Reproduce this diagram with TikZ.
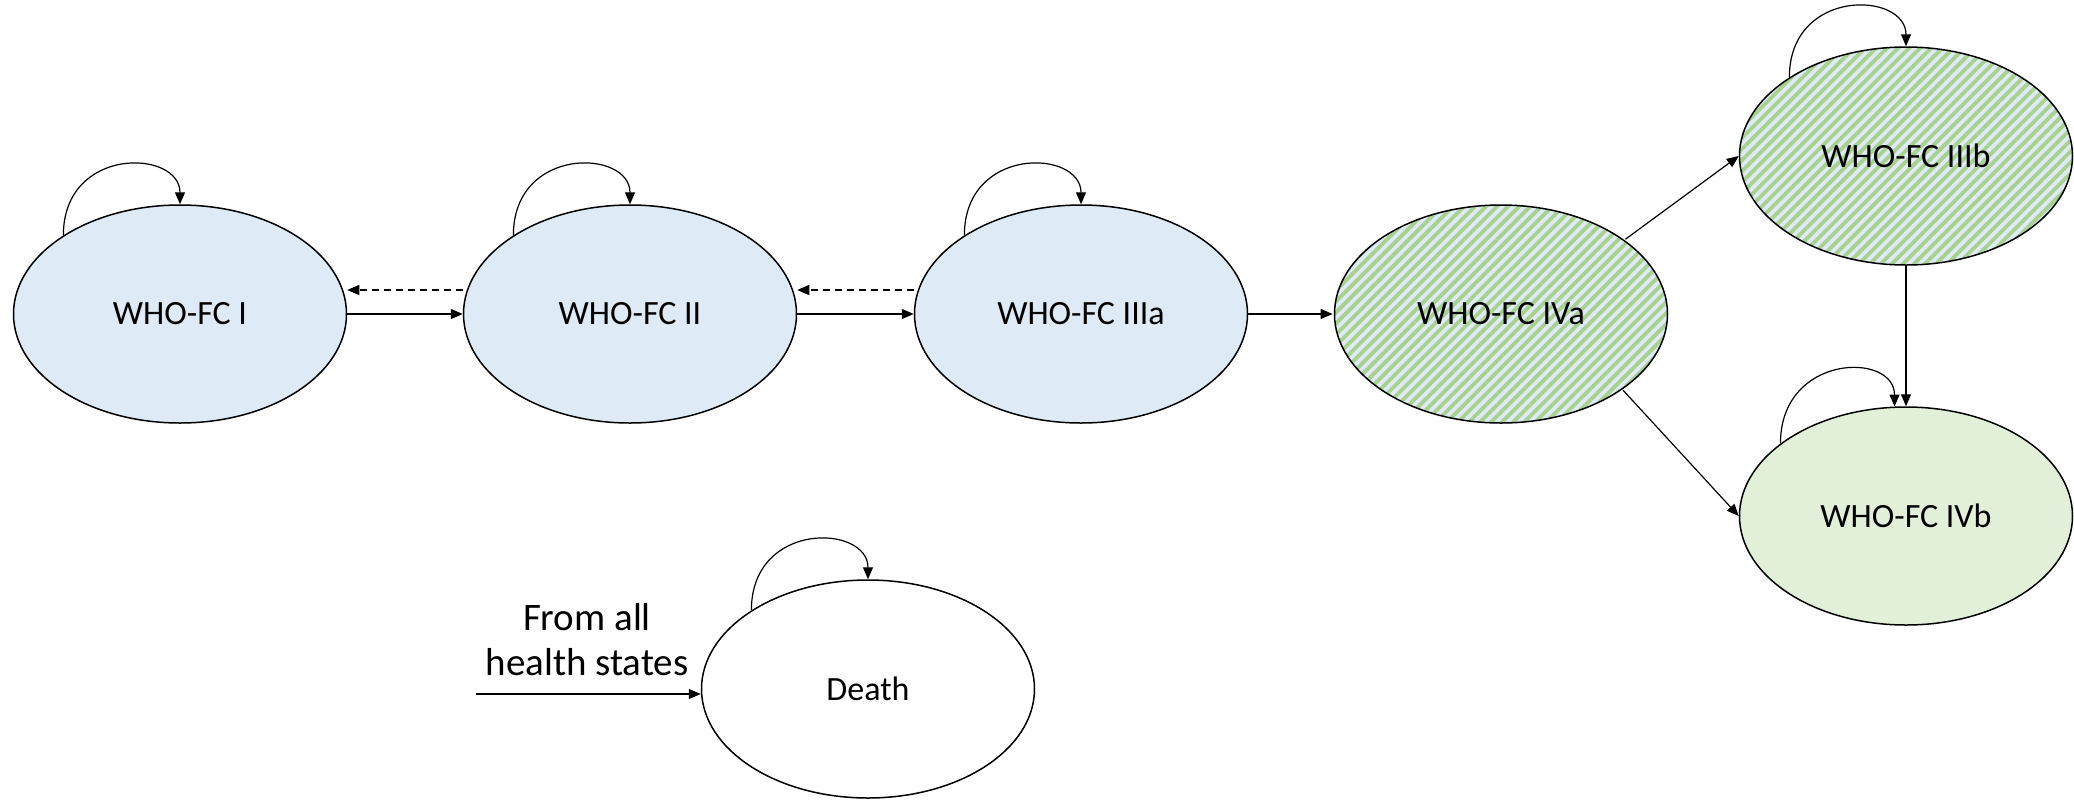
\documentclass[tikz,border=0pt]{standalone}
\usepackage{fontspec}
\setmainfont{Carlito}
\usetikzlibrary{shapes.geometric,arrows.meta,patterns.meta}
\definecolor{stateblue}{HTML}{DEEBF7}
\definecolor{stategreen}{HTML}{E2F0D9}
\definecolor{hatchgreen}{HTML}{A9D18E}
\tikzset{
  state/.style={ellipse, draw, line width=0.75pt, minimum width=166.5pt,
    minimum height=109pt, inner sep=0pt, font=\fontsize{17}{20}\selectfont},
  bluestate/.style={state, fill=stateblue},
  greenstate/.style={state, fill=stategreen},
  hatchstate/.style={state, preaction={fill=stateblue},
    pattern={Lines[angle=45,distance=3.9pt,line width=1.9pt]},
    pattern color=hatchgreen},
  trans/.style={-{Triangle[length=6pt,width=5pt]}, line width=0.6pt},
  back/.style={trans, dash pattern=on 3.5pt off 2.5pt},
}
\newcommand\selfloop[3]{\draw[trans] (#1.#2) .. controls +(0,-90) and +(0,-55) .. (#1.#3);}

\begin{document}
\begin{tikzpicture}[x=0.5pt,y=-0.5pt]

  \useasboundingbox (0,0) rectangle (2074,799);

  \newcommand\Y{314}

  \node[bluestate] (i) at (180,\Y) {WHO-FC I};
  \node[bluestate] (ii) at (630,\Y) {WHO-FC II};
  \node[bluestate] (iiia) at (1081,\Y) {WHO-FC IIIa};
  \node[hatchstate] (iva) at (1501,\Y) {WHO-FC IVa};
  \node[hatchstate] (iiib) at (1906,156) {WHO-FC IIIb};
  \node[greenstate] (ivb) at (1906,516) {WHO-FC IVb};
  \node[state] (death) at (868,689) {Death};

  \node[font=\fontsize{19.5}{22.5}\selectfont, align=center] (from) at (587,640)
    {From all\\health states};
  \coordinate (src) at (476,694);

  % staying in the same state
  \selfloop{i}{146}{north}
  \selfloop{ii}{146}{north}
  \selfloop{iiia}{146}{north}
  \selfloop{iiib}{146}{north}
  \selfloop{ivb}{150}{96}
  \selfloop{death}{146}{north}

  \draw[trans] (i) -- (ii); %% I->II
  \draw[back] ([yshift=12pt]ii.west) -- ([yshift=12pt]i.east); %% II->I
  \draw[trans] (ii) -- (iiia); %% II->IIIa
  \draw[back] ([yshift=12pt]iiia.west) -- ([yshift=12pt]ii.east); %% IIIa->II
  \draw[trans] (iiia) -- (iva); %% IIIa->IVa

  \draw[trans] (iva.31.7) -- (iiib.west); %% IVa->IIIb
  \draw[trans] (iva.-32.4) -- (ivb.west); %% IVa->IVb
  \draw[trans] (iiib.south) -- (ivb.north); %% IIIb->IVb

  \draw[trans] (src) -- (src -| death.west); % all->Death
\end{tikzpicture}
\end{document}
